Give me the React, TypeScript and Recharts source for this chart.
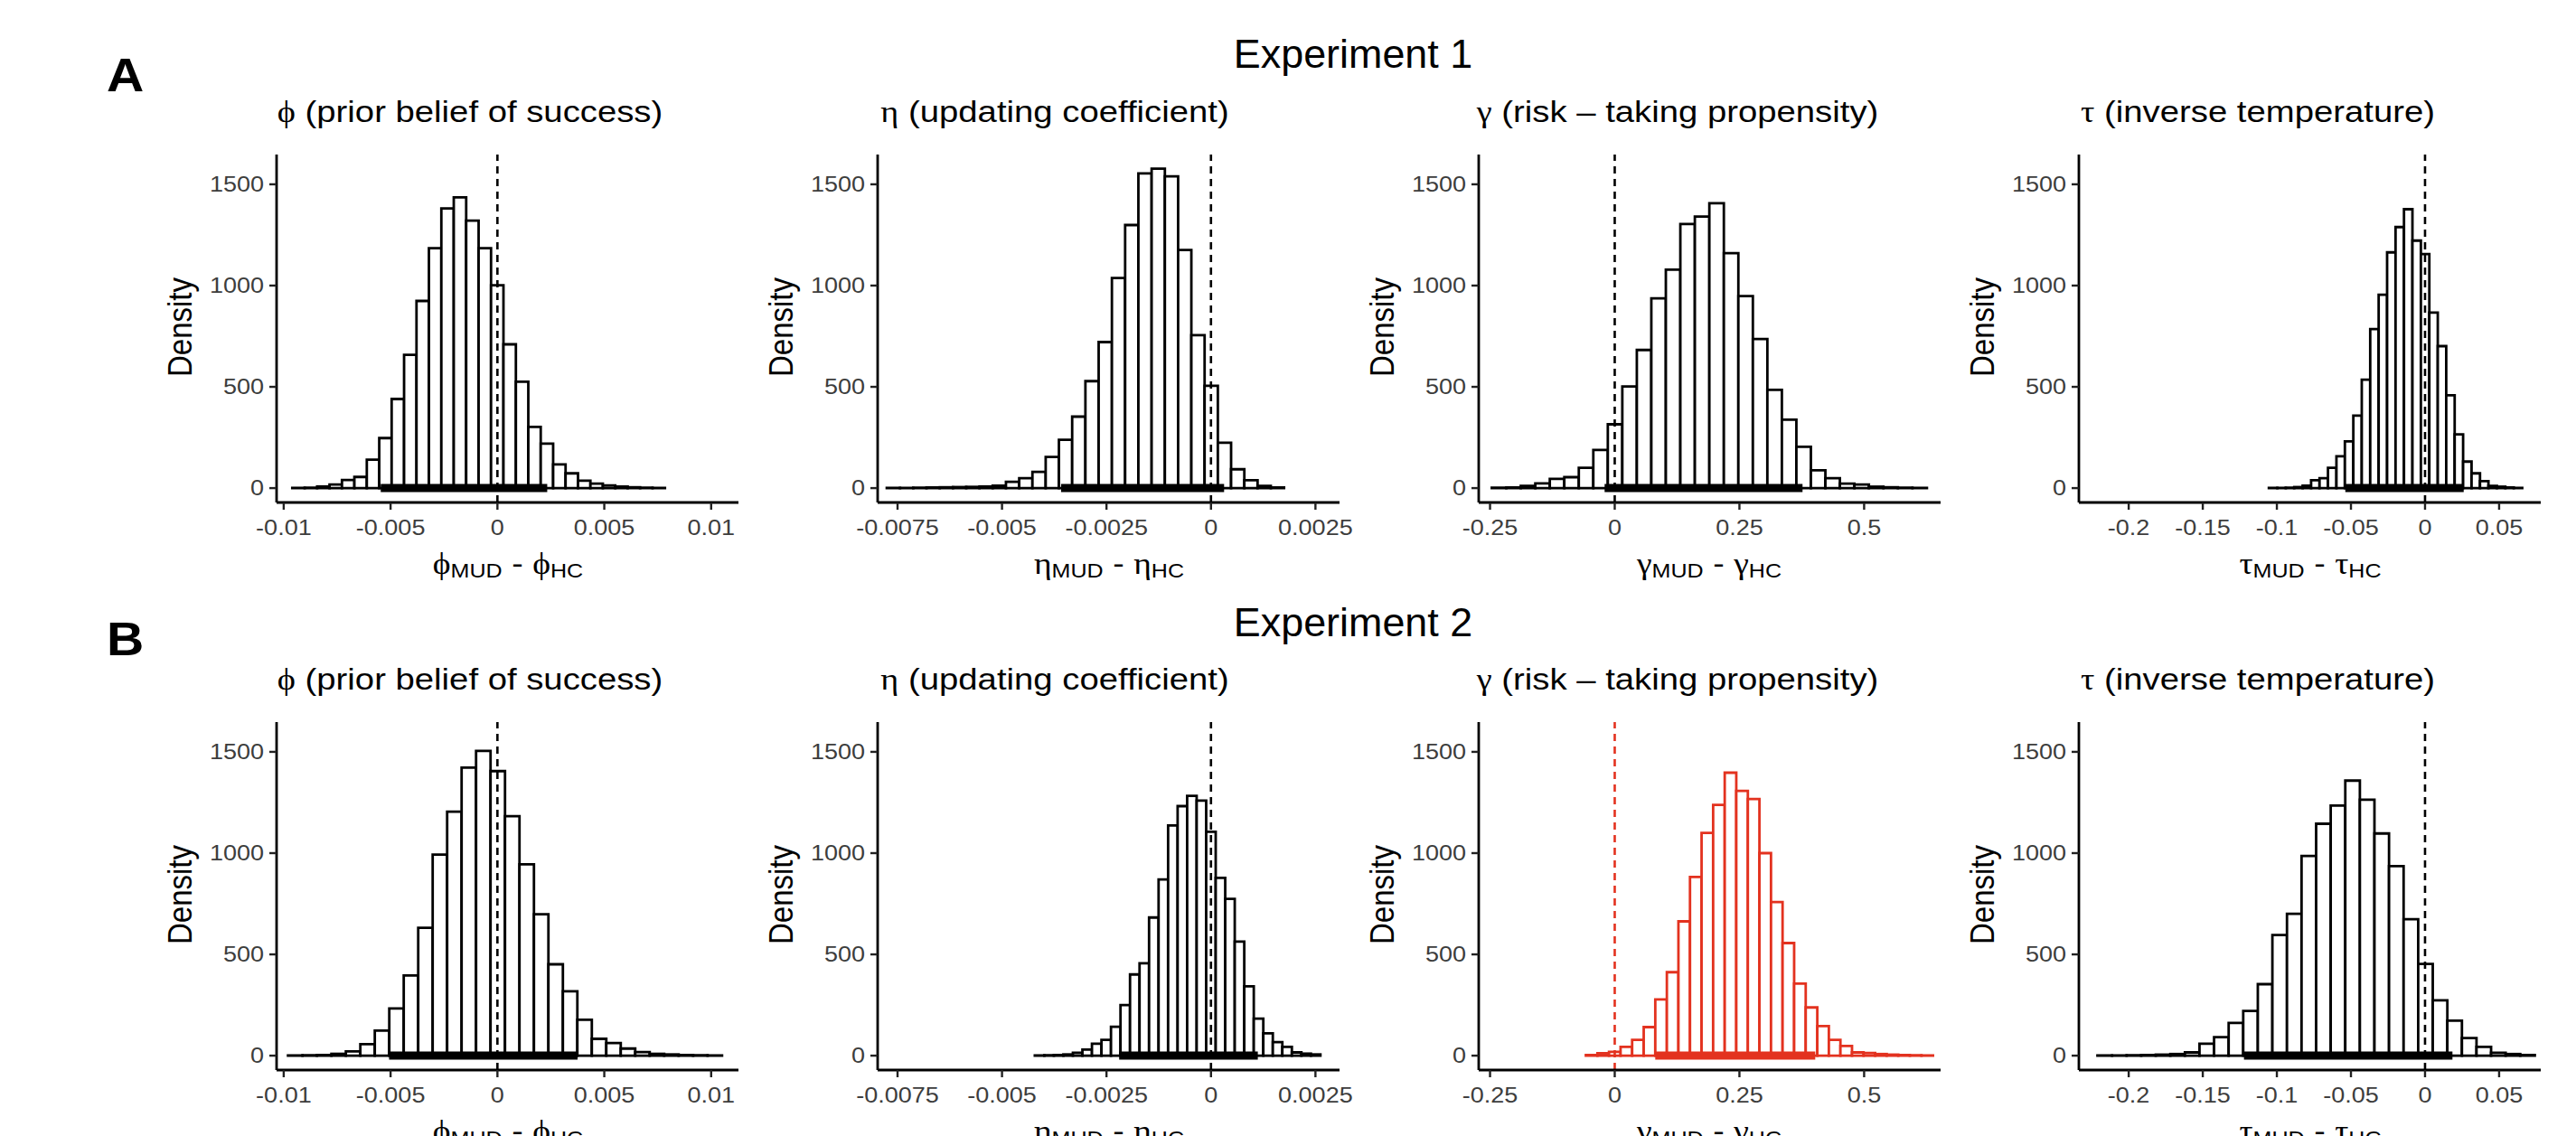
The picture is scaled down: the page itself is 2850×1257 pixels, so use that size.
import React from "react";
import { ComposedChart, XAxis, YAxis, ReferenceArea, ReferenceLine } from "recharts";

// bin heights (30 bins each)
const exp1Phi = [1, 2, 8, 18, 40, 55, 140, 247, 440, 658, 924, 1185, 1381, 1436, 1321, 1185, 1002, 710, 525, 302, 220, 117, 73, 37, 22, 13, 7, 4, 2, 1];
const exp1Eta = [1, 1, 2, 3, 4, 5, 6, 8, 12, 31, 49, 80, 154, 239, 353, 528, 721, 1037, 1299, 1554, 1577, 1539, 1176, 755, 505, 224, 93, 39, 11, 3];
const exp1Gamma = [2, 3, 11, 23, 46, 54, 100, 188, 315, 502, 682, 937, 1079, 1304, 1341, 1407, 1160, 948, 736, 485, 338, 204, 88, 49, 22, 18, 7, 4, 2, 1];
const exp1Tau = [1, 1, 2, 5, 12, 39, 49, 100, 157, 231, 358, 535, 785, 955, 1164, 1289, 1377, 1222, 1156, 867, 701, 458, 265, 131, 73, 34, 11, 7, 3, 1];
const exp2Phi = [1, 2, 3, 9, 21, 57, 124, 233, 396, 631, 993, 1205, 1422, 1505, 1405, 1182, 945, 698, 451, 318, 177, 83, 62, 35, 18, 9, 6, 3, 2, 1];
const exp2Eta = [1, 2, 3, 6, 14, 30, 59, 78, 143, 250, 401, 456, 682, 870, 1137, 1232, 1283, 1259, 1105, 878, 774, 563, 342, 183, 110, 67, 43, 16, 10, 6];
const exp2Gamma = [3, 12, 19, 43, 78, 141, 278, 412, 663, 882, 1100, 1238, 1397, 1307, 1267, 1000, 758, 556, 356, 238, 146, 78, 48, 16, 13, 8, 5, 3, 2, 1];
const exp2Tau = [1, 1, 2, 3, 5, 8, 16, 59, 91, 162, 221, 353, 596, 700, 986, 1145, 1235, 1358, 1264, 1097, 936, 674, 453, 273, 173, 87, 43, 14, 8, 3];

// first bin edge and bin width
const exp1Start = [-0.0096, -0.007758, -0.2465, -0.1054];
const exp1Width = [0.0005813, 0.0003169, 0.02908, 0.0057];
const exp2Start = [-0.0098, -0.004215, -0.0579, -0.2211];
const exp2Width = [0.000677, 0.0002278, 0.0232, 0.00984];

// 95% HDI
const exp1Hdi = [[-0.00546, 0.00233], [-0.003587, 0.000314], [-0.0203, 0.3765], [-0.0538, 0.0261]];
const exp2Hdi = [[-0.00507, 0.00375], [-0.002197, 0.001121], [0.0812, 0.402], [-0.1222, 0.0185]];

const xTicks = [
  [-0.01, -0.005, 0, 0.005, 0.01],
  [-0.0075, -0.005, -0.0025, 0, 0.0025],
  [-0.25, 0, 0.25, 0.5],
  [-0.2, -0.15, -0.1, -0.05, 0, 0.05],
];
const xDomains = [
  [-0.010334, 0.011278],
  [-0.007976, 0.003076],
  [-0.2727, 0.6533],
  [-0.23363, 0.0781],
];
const yTicks = [0, 500, 1000, 1500];
const yDomain = [-71, 1647];

const symbols = ["ϕ", "η", "γ", "τ"];
const titles = ["(prior belief of success)", "(updating coefficient)", "(risk – taking propensity)", "(inverse temperature)"];
const experiments = ["Experiment 1", "Experiment 2"];
const rowLetters = ["A", "B"];

const SANS = '"Liberation Sans", Arial, Helvetica, sans-serif';
const GREEK = '"Liberation Serif", "DejaVu Serif", serif';
const STRETCH = 1.14;
const RED = "#e3321f";

const AXIS_X = [306, 971, 1635.5, 2300];
const PLOT_TOP = [171, 799];
const PLOT_W = 511;
const PLOT_H = 385;
const TITLE_CX = [520, 1167, 1856, 2498];
const ML = 90, MT = 10, MR = 20, XH = 64;

function XTick(props: any) {
  const { x, y, payload } = props;
  return (
    <g transform={`translate(${x},${y})`}>
      <text textAnchor="middle" dy="0.71em" fontSize={23.5} fill="#3d3d3d" fontFamily={SANS} transform="scale(1.15,1)">
        {String(payload.value)}
      </text>
    </g>
  );
}

function YTick(props: any) {
  const { x, y, payload } = props;
  return (
    <g transform={`translate(${x},${y})`}>
      <text textAnchor="end" dy="0.355em" fontSize={23.5} fill="#3d3d3d" fontFamily={SANS} transform="scale(1.15,1)">
        {String(payload.value)}
      </text>
    </g>
  );
}

function Panel({ row, col }: { row: number; col: number }) {
  const heights = [[exp1Phi, exp1Eta, exp1Gamma, exp1Tau], [exp2Phi, exp2Eta, exp2Gamma, exp2Tau]][row][col];
  const start = (row === 0 ? exp1Start : exp2Start)[col];
  const width = (row === 0 ? exp1Width : exp2Width)[col];
  const hdi = (row === 0 ? exp1Hdi : exp2Hdi)[col];
  const color = row === 1 && col === 2 ? RED : "#000";
  const bins = heights.map((h, i) => ({ x0: start + i * width, x1: start + (i + 1) * width, h }));
  const axisX = AXIS_X[col];
  const top = PLOT_TOP[row];
  const sym = symbols[col];

  return (
    <>
      <div style={{ position: "absolute", left: axisX - ML, top: top - MT }}>
        <ComposedChart width={ML + PLOT_W + MR} height={MT + PLOT_H + XH} data={bins} margin={{ top: MT, right: MR, bottom: 0, left: 0 }}>
          <XAxis
            type="number"
            dataKey="x0"
            domain={xDomains[col]}
            ticks={xTicks[col]}
            interval={0}
            allowDataOverflow
            height={XH}
            axisLine={{ stroke: "#000", strokeWidth: 2.8 }}
            tickLine={{ stroke: "#222", strokeWidth: 2.4 }}
            tickSize={8}
            tickMargin={11}
            tick={<XTick />}
          />
          <YAxis
            type="number"
            domain={yDomain}
            ticks={yTicks}
            interval={0}
            allowDataOverflow
            width={ML}
            axisLine={{ stroke: "#000", strokeWidth: 2.8 }}
            tickLine={{ stroke: "#222", strokeWidth: 2.4 }}
            tickSize={8}
            tickMargin={6}
            tick={<YTick />}
          />
          {bins.map((b, i) => (
            <ReferenceArea key={i} x1={b.x0} x2={b.x1} y1={0} y2={b.h} fill="#fff" fillOpacity={1} stroke={color} strokeWidth={2.8} />
          ))}
          <ReferenceLine x={0} stroke={color} strokeWidth={2.6} strokeDasharray="8 6" />
          <ReferenceLine segment={[{ x: hdi[0], y: 0 }, { x: hdi[1], y: 0 }]} stroke={color} strokeWidth={9} />
        </ComposedChart>
      </div>
      <div
        style={{
          position: "absolute", left: TITLE_CX[col], top: top - 64, fontSize: 33.6, lineHeight: 1,
          whiteSpace: "nowrap", transform: `translateX(-50%) scaleX(${STRETCH})`, color: "#000",
        }}
      >
        <span style={{ fontFamily: GREEK }}>{sym}</span> {titles[col]}
      </div>
      <div
        style={{
          position: "absolute", left: axisX - 107, top: top + PLOT_H / 2 - 2, fontSize: 33, lineHeight: 1,
          whiteSpace: "nowrap", transform: `translate(-50%,-50%) rotate(-90deg) scaleY(${STRETCH})`, color: "#000",
        }}
      >
        Density
      </div>
      <div
        style={{
          position: "absolute", left: axisX + PLOT_W / 2, top: top + 454, fontSize: 33, lineHeight: 1,
          whiteSpace: "nowrap", transform: `translate(-50%,-50%) scaleX(${STRETCH})`, color: "#000",
        }}
      >
        <span style={{ fontFamily: GREEK }}>{sym}</span>
        <span style={{ fontSize: 22, verticalAlign: "-0.2em" }}>MUD</span>
        {" - "}
        <span style={{ fontFamily: GREEK }}>{sym}</span>
        <span style={{ fontSize: 22, verticalAlign: "-0.2em" }}>HC</span>
      </div>
    </>
  );
}

export default function App() {
  return (
    <div
      style={{
        position: "absolute", left: 0, top: 0, width: 2850, height: 1257, overflow: "hidden",
        background: "#fff", fontFamily: SANS,
      }}
    >
      {[0, 1].map((row) => (
        <React.Fragment key={row}>
          <div
            style={{
              position: "absolute", left: 118, top: 58 + row * 624, fontSize: 51, fontWeight: "bold", lineHeight: 1,
              transform: `scaleX(1.12)`, transformOrigin: "left center",
            }}
          >
            {rowLetters[row]}
          </div>
          <div
            style={{
              position: "absolute", left: 1497, top: 38 + row * 629, fontSize: 44, lineHeight: 1,
              whiteSpace: "nowrap", transform: `translateX(-50%) scaleX(1.02)`,
            }}
          >
            {experiments[row]}
          </div>
          {[0, 1, 2, 3].map((col) => (
            <Panel key={col} row={row} col={col} />
          ))}
        </React.Fragment>
      ))}
    </div>
  );
}
